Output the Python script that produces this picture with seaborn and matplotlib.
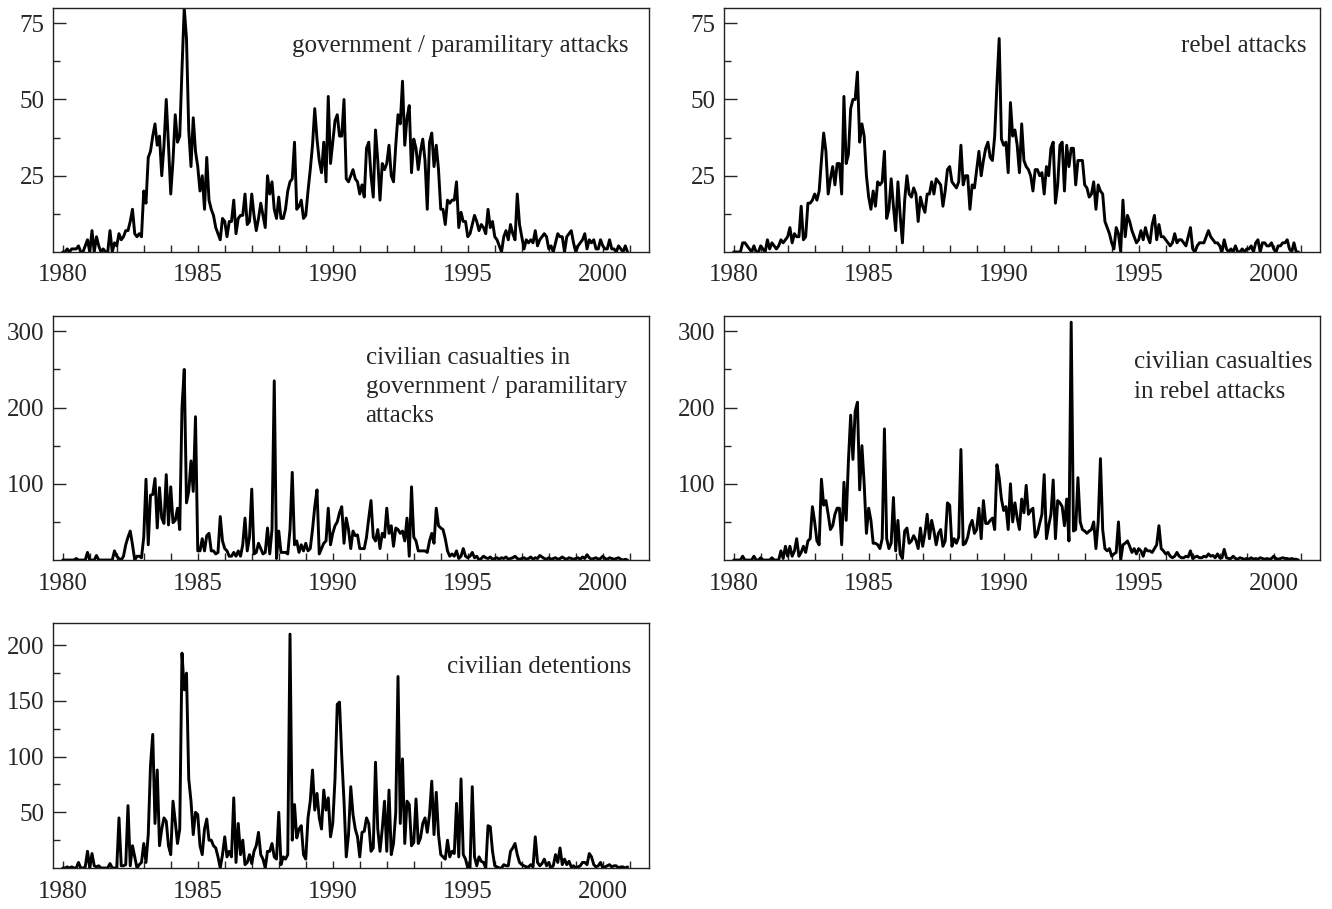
import matplotlib
matplotlib.use("Agg")
import matplotlib.pyplot as plt
import numpy as np
import pandas as pd
import seaborn as sns

# monthly counts, Jan 1980 - Dec 2000 (one row per year)
gov_attacks = [
    0, 0, 1, 0, 1, 1, 1, 2, 0, 0, 2, 4,
    0, 7, 0, 5, 2, 0, 1, 0, 0, 7, 0, 3,
    2, 6, 4, 5, 7, 7, 10, 14, 6, 5, 6, 5,
    20, 16, 31, 33, 38, 42, 35, 38, 25, 35, 50, 35,
    19, 30, 45, 36, 38, 60, 80, 70, 40, 28, 44, 33,
    28, 20, 25, 14, 31, 17, 14, 12, 8, 6, 4, 11,
    10, 5, 10, 10, 17, 6, 11, 12, 12, 19, 9, 10,
    19, 12, 7, 11, 16, 12, 8, 25, 19, 23, 14, 11,
    18, 11, 11, 14, 20, 23, 24, 36, 14, 15, 17, 11,
    12, 20, 27, 35, 47, 37, 30, 26, 36, 23, 51, 29,
    36, 43, 45, 38, 38, 50, 24, 23, 25, 27, 24, 23,
    19, 22, 18, 34, 36, 25, 18, 40, 30, 17, 29, 27,
    29, 35, 25, 23, 35, 45, 42, 56, 35, 44, 48, 26,
    37, 34, 27, 33, 37, 30, 14, 36, 39, 28, 35, 27,
    14, 14, 9, 17, 16, 17, 17, 23, 8, 13, 10, 10,
    5, 6, 9, 12, 10, 7, 9, 8, 6, 14, 8, 10,
    5, 4, 2, 0, 5, 7, 4, 9, 6, 4, 19, 9,
    5, 1, 4, 3, 4, 3, 7, 2, 4, 5, 6, 5,
    1, 2, 0, 3, 6, 5, 5, 0, 5, 6, 7, 3,
    0, 2, 3, 4, 6, 1, 4, 3, 4, 1, 1, 4,
    2, 1, 1, 4, 1, 1, 0, 2, 1, 0, 2, 0,
]

rebel_attacks = [
    0, 0, 0, 0, 3, 3, 2, 1, 0, 2, 0, 0,
    2, 1, 0, 4, 1, 3, 2, 1, 2, 4, 3, 4,
    5, 8, 3, 6, 5, 5, 15, 4, 5, 16, 16, 17,
    19, 17, 20, 30, 39, 33, 19, 24, 28, 22, 29, 29,
    19, 51, 29, 32, 47, 50, 50, 59, 36, 42, 38, 25,
    18, 14, 20, 15, 23, 22, 23, 33, 11, 14, 24, 15,
    7, 23, 12, 3, 17, 25, 19, 18, 21, 19, 10, 18,
    15, 13, 19, 19, 23, 19, 24, 23, 22, 15, 20, 27,
    28, 23, 22, 21, 23, 35, 22, 25, 25, 14, 22, 21,
    27, 33, 25, 30, 34, 36, 31, 30, 38, 55, 70, 37,
    35, 36, 26, 49, 38, 40, 35, 26, 42, 30, 28, 27,
    25, 20, 27, 27, 25, 26, 19, 28, 25, 34, 36, 16,
    22, 35, 36, 20, 35, 28, 34, 34, 22, 30, 30, 30,
    22, 21, 18, 19, 23, 14, 22, 20, 19, 10, 8, 6,
    3, 1, 8, 6, 0, 17, 5, 12, 10, 7, 5, 3,
    4, 7, 4, 8, 5, 3, 9, 12, 4, 9, 5, 5,
    4, 3, 2, 3, 6, 3, 4, 4, 3, 2, 5, 8,
    1, 0, 2, 3, 3, 3, 5, 7, 5, 4, 3, 3,
    2, 0, 4, 1, 0, 1, 0, 2, 0, 0, 1, 0,
    1, 1, 2, 0, 3, 4, 0, 3, 3, 2, 2, 3,
    1, 0, 2, 2, 3, 3, 4, 1, 0, 3, 0, 0,
]

cas_gov = [
    0, 0, 0, 0, 0, 0, 2, 0, 0, 0, 0, 10,
    0, 0, 0, 6, 0, 0, 0, 0, 0, 0, 0, 12,
    5, 2, 0, 5, 20, 30, 38, 20, 0, 5, 5, 3,
    30, 106, 20, 85, 86, 107, 42, 95, 55, 48, 112, 46,
    96, 49, 52, 68, 40, 200, 250, 75, 90, 130, 90, 188,
    12, 12, 28, 12, 32, 35, 12, 12, 8, 10, 57, 25,
    15, 12, 5, 5, 10, 5, 12, 5, 20, 55, 12, 30,
    93, 8, 10, 22, 15, 8, 10, 42, 8, 40, 235, 2,
    38, 10, 10, 10, 8, 40, 115, 20, 25, 10, 20, 12,
    22, 12, 15, 40, 70, 92, 8, 15, 22, 25, 68, 20,
    35, 45, 50, 62, 70, 22, 55, 40, 15, 38, 32, 33,
    15, 15, 15, 30, 55, 78, 30, 25, 40, 15, 35, 30,
    68, 35, 45, 18, 42, 40, 35, 38, 25, 55, 5, 96,
    30, 25, 12, 12, 12, 12, 10, 25, 35, 22, 68, 45,
    42, 40, 28, 12, 5, 8, 5, 12, 2, 5, 15, 5,
    3, 5, 10, 3, 5, 0, 2, 5, 3, 2, 4, 1,
    2, 3, 1, 3, 2, 4, 1, 2, 3, 5, 2, 1,
    2, 3, 1, 2, 4, 1, 3, 2, 6, 4, 2, 1,
    3, 1, 2, 3, 1, 2, 4, 2, 1, 3, 2, 1,
    2, 3, 1, 4, 2, 7, 3, 1, 2, 3, 1, 2,
    5, 2, 1, 3, 2, 1, 2, 3, 1, 0, 1, 0,
]

cas_rebel = [
    0, 0, 0, 0, 5, 0, 0, 0, 0, 5, 0, 0,
    3, 0, 0, 0, 0, 3, 0, 0, 0, 12, 2, 18,
    5, 18, 5, 12, 28, 5, 10, 18, 10, 25, 28, 70,
    50, 25, 20, 106, 72, 78, 60, 40, 45, 60, 68, 68,
    20, 102, 52, 130, 190, 132, 195, 207, 92, 150, 100, 35,
    68, 52, 22, 22, 20, 15, 28, 172, 28, 15, 22, 82,
    12, 52, 8, 2, 38, 42, 22, 25, 32, 26, 15, 42,
    18, 35, 60, 28, 52, 38, 20, 35, 40, 18, 25, 75,
    72, 18, 28, 22, 30, 145, 20, 22, 30, 45, 52, 35,
    40, 68, 28, 78, 48, 48, 52, 55, 40, 125, 108, 80,
    65, 70, 40, 100, 50, 75, 55, 40, 80, 62, 98, 60,
    65, 68, 30, 35, 48, 60, 112, 28, 45, 60, 105, 28,
    78, 75, 70, 45, 80, 25, 312, 38, 40, 108, 50, 40,
    38, 35, 38, 40, 50, 15, 50, 133, 40, 15, 12, 15,
    5, 8, 10, 50, 0, 20, 22, 25, 18, 10, 15, 8,
    15, 12, 5, 15, 12, 12, 10, 15, 20, 45, 15, 12,
    8, 10, 5, 3, 5, 10, 5, 3, 3, 5, 4, 12,
    2, 4, 5, 3, 3, 5, 4, 8, 5, 6, 3, 8,
    3, 3, 14, 3, 2, 2, 5, 2, 1, 3, 2, 1,
    2, 1, 3, 1, 2, 1, 3, 2, 1, 2, 1, 2,
    5, 2, 1, 2, 3, 2, 2, 1, 2, 1, 1, 0,
]

detentions = [
    0, 0, 1, 0, 1, 0, 0, 5, 0, 0, 1, 15,
    0, 13, 2, 1, 2, 0, 0, 0, 0, 4, 0, 0,
    0, 45, 2, 2, 3, 56, 2, 20, 10, 0, 3, 5,
    22, 5, 30, 92, 120, 40, 88, 20, 35, 45, 42, 20,
    12, 60, 42, 22, 35, 193, 160, 175, 80, 60, 30, 50,
    48, 20, 12, 35, 44, 25, 25, 20, 18, 10, 0, 12,
    28, 10, 15, 10, 63, 5, 40, 12, 25, 3, 5, 12,
    4, 15, 20, 32, 12, 8, 0, 15, 15, 22, 10, 8,
    50, 3, 10, 8, 12, 210, 25, 57, 27, 35, 38, 12,
    8, 45, 60, 88, 52, 67, 45, 35, 70, 52, 63, 28,
    40, 80, 147, 149, 100, 60, 10, 30, 73, 48, 35, 28,
    10, 32, 33, 45, 40, 15, 18, 95, 35, 15, 35, 60,
    15, 70, 12, 22, 50, 172, 40, 98, 22, 60, 57, 20,
    23, 62, 22, 27, 40, 45, 32, 48, 78, 30, 68, 30,
    12, 10, 8, 25, 10, 15, 13, 58, 10, 80, 12, 8,
    0, 0, 73, 10, 2, 10, 6, 5, 0, 38, 37, 15,
    2, 1, 0, 0, 3, 2, 2, 15, 18, 22, 12, 5,
    3, 2, 1, 1, 3, 1, 28, 5, 2, 4, 8, 2,
    5, 0, 2, 12, 5, 18, 3, 8, 3, 6, 1, 2,
    0, 1, 2, 5, 5, 3, 13, 10, 3, 1, 2, 5,
    0, 1, 2, 3, 1, 2, 2, 0, 1, 1, 0, 1,
]

labels = [
    "government / paramilitary attacks",
    "rebel attacks",
    "civilian casualties in\ngovernment / paramilitary\nattacks",
    "civilian casualties\nin rebel attacks",
    "civilian detentions",
]
series = [gov_attacks, rebel_attacks, cas_gov, cas_rebel, detentions]
year_ticks = [1980, 1985, 1990, 1995, 2000]

sns.set_style("ticks")
plt.rcParams['font.family'] = ['Liberation Serif', 'DejaVu Serif']

months = 1980 + np.arange(len(gov_attacks)) / 12.0

fig = plt.figure(figsize=(13.32, 9.09), dpi=100)
w, h = 0.4474, 0.2684
positions = [
    [0.0398, 0.7228, w, h],
    [0.5435, 0.7228, w, h],
    [0.0398, 0.3839, w, h],
    [0.5435, 0.3839, w, h],
    [0.0398, 0.0451, w, 0.2695],
]
ylims = [80, 80, 320, 320, 220]
ymajor = [[25, 50, 75], [25, 50, 75], [100, 200, 300], [100, 200, 300], [50, 100, 150, 200]]
yminor = [[12.5, 37.5, 62.5], [12.5, 37.5, 62.5], [50, 150, 250], [50, 150, 250], [25, 75, 125, 175]]
# text placement (axes coords)
text_pos = [(0.966, 0.89), (0.978, 0.89), (0.963, 0.875), (0.987, 0.855), (0.971, 0.865)]

for k in range(5):
    ax = fig.add_axes(positions[k])
    df = pd.DataFrame({'year': months, 'value': series[k]})
    sns.lineplot(data=df, x='year', y='value', ax=ax, color='black', linewidth=2.1)
    ax.set_xlim(1979.64, 2001.71)
    ax.set_ylim(0, ylims[k])
    ax.set_xticks(year_ticks)
    ax.set_xticks(range(1980, 2002), minor=True)
    ax.set_yticks(ymajor[k])
    ax.set_yticks(yminor[k], minor=True)
    ax.tick_params(axis='x', which='both', direction='in', length=5, width=1,
                   labelsize=18, pad=9)
    ax.tick_params(axis='y', which='major', direction='in', length=9, width=1,
                   labelsize=18, pad=6)
    ax.tick_params(axis='y', which='minor', direction='in', length=5, width=1)
    ax.set_xlabel('')
    ax.set_ylabel('')
    for sp in ax.spines.values():
        sp.set_visible(True)
        sp.set_linewidth(1)
        sp.set_color('#222222')
    tx, ty = text_pos[k]
    ax.text(tx, ty, labels[k], transform=ax.transAxes, ha='right', va='top',
            multialignment='left', fontsize=18, linespacing=1.42)

fig.savefig("out.png", dpi=100)
plt.close(fig)
